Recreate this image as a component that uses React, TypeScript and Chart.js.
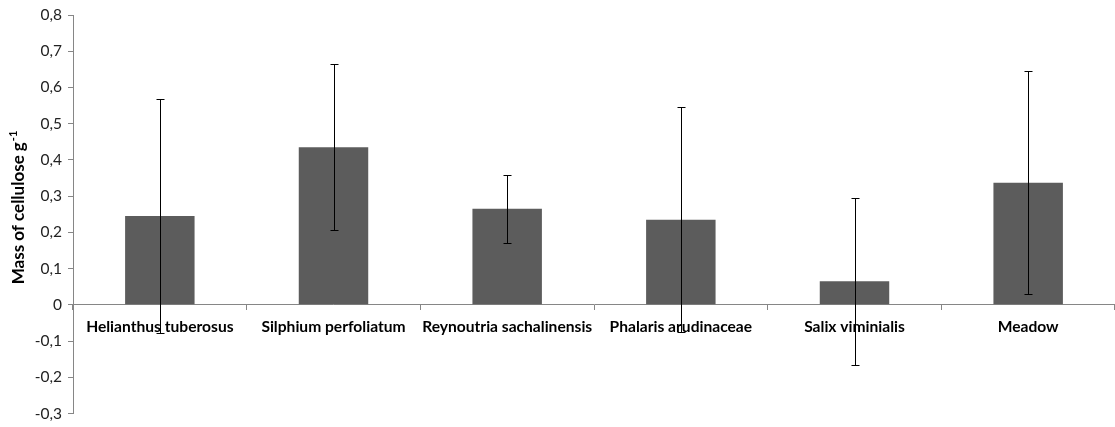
import React, { useEffect, useRef } from "react";
import { Chart, registerables } from "chart.js";

Chart.register(...registerables);

const categories = [
  "Helianthus tuberosus",
  "Silphium perfoliatum",
  "Reynoutria sachalinensis",
  "Phalaris arudinaceae",
  "Salix viminialis",
  "Meadow",
];
const means = [0.245, 0.435, 0.265, 0.235, 0.065, 0.337];
const errors = [0.323, 0.229, 0.093, 0.31, 0.23, 0.308];
const yTicks = [-0.3, -0.2, -0.1, 0, 0.1, 0.2, 0.3, 0.4, 0.5, 0.6, 0.7, 0.8];
const yTitle = "Mass of cellulose g";
const yTitleSup = "-1";

const FONT = "Lato, 'Open Sans', sans-serif";

const errorBarPlugin = {
  id: "errorBars",
  afterDatasetsDraw(chart: any) {
    const ctx = chart.ctx;
    const meta = chart.getDatasetMeta(0);
    const y = chart.scales.y;
    ctx.save();
    ctx.strokeStyle = "#000000";
    ctx.lineWidth = 1;
    meta.data.forEach((bar: any, i: number) => {
      const x = Math.round(bar.x) + 0.5;
      const top = Math.round(y.getPixelForValue(means[i] + errors[i])) + 0.5;
      const bot = Math.round(y.getPixelForValue(means[i] - errors[i])) + 0.5;
      ctx.beginPath();
      ctx.moveTo(x, top);
      ctx.lineTo(x, bot);
      ctx.moveTo(x - 4, top);
      ctx.lineTo(x + 4, top);
      ctx.moveTo(x - 4, bot);
      ctx.lineTo(x + 4, bot);
      ctx.stroke();
    });
    ctx.restore();
  },
};

const yTitlePlugin = {
  id: "yTitleSup",
  afterDraw(chart: any) {
    const ctx = chart.ctx;
    ctx.save();
    const mainFont = `bold 17px ${FONT}`;
    const supFont = `bold 11px ${FONT}`;
    ctx.font = mainFont;
    const w1 = ctx.measureText(yTitle + " ").width - ctx.measureText(" ").width;
    ctx.font = supFont;
    const w2 = ctx.measureText(yTitleSup).width;
    const total = w1 + w2;
    const cy = 208;
    ctx.translate(18, cy);
    ctx.rotate(-Math.PI / 2);
    ctx.fillStyle = "#000000";
    ctx.textBaseline = "middle";
    ctx.textAlign = "left";
    ctx.font = mainFont;
    ctx.fillText(yTitle, -total / 2, 1);
    ctx.font = supFont;
    ctx.fillText(yTitleSup, -total / 2 + w1 + 1, -5);
    ctx.restore();
  },
};

export default function App() {
  const ref = useRef<HTMLCanvasElement | null>(null);

  useEffect(() => {
    document.body.style.margin = "0";
    const canvas = ref.current;
    if (!canvas) return;
    const chart = new Chart(canvas, {
      type: "bar",
      data: {
        labels: categories,
        datasets: [
          {
            data: means,
            backgroundColor: "#5c5c5c",
            borderWidth: 0,
            barPercentage: 0.4,
            categoryPercentage: 1,
          },
        ],
      },
      options: {
        animation: false,
        responsive: false,
        maintainAspectRatio: false,
        layout: { padding: { top: 15, bottom: 13.5, left: 0, right: 0 } },
        plugins: {
          legend: { display: false },
          tooltip: { enabled: false },
          title: { display: false },
        },
        scales: {
          x: {
            type: "category",
            position: { y: 0 } as any,
            offset: true,
            grid: {
              display: true,
              drawOnChartArea: false,
              drawTicks: true,
              tickLength: 5,
              color: "#868686",
              offset: true,
            },
            border: { display: true, color: "#868686", width: 1 },
            ticks: {
              font: { family: FONT, size: 15.6, weight: "bold", lineHeight: 1 },
              color: "#000000",
              padding: 9,
              maxRotation: 0,
              autoSkip: false,
            },
          },
          y: {
            min: -0.3,
            max: 0.8,
            afterBuildTicks(scale: any) {
              scale.ticks = yTicks.map((v) => ({ value: v }));
            },
            afterFit(scale: any) {
              scale.width = 73;
              scale.paddingTop = 0;
              scale.paddingBottom = 0;
            },
            grid: {
              display: true,
              drawOnChartArea: false,
              drawTicks: true,
              tickLength: 5,
              color: "#868686",
            },
            border: { display: true, color: "#868686", width: 1 },
            ticks: {
              font: { family: FONT, size: 15.5, lineHeight: 1 },
              color: "#222222",
              padding: 6,
              callback: (v: any) => {
                const n = Number(v);
                if (Math.abs(n) < 1e-9) return "0";
                return n.toFixed(1).replace(".", ",");
              },
            },
          },
        },
      },
      plugins: [errorBarPlugin, yTitlePlugin],
    });
    return () => chart.destroy();
  }, []);

  return (
    <div style={{ width: 1115, height: 427 }}>
      <canvas ref={ref} width={1115} height={427} style={{ display: "block" }} />
    </div>
  );
}
